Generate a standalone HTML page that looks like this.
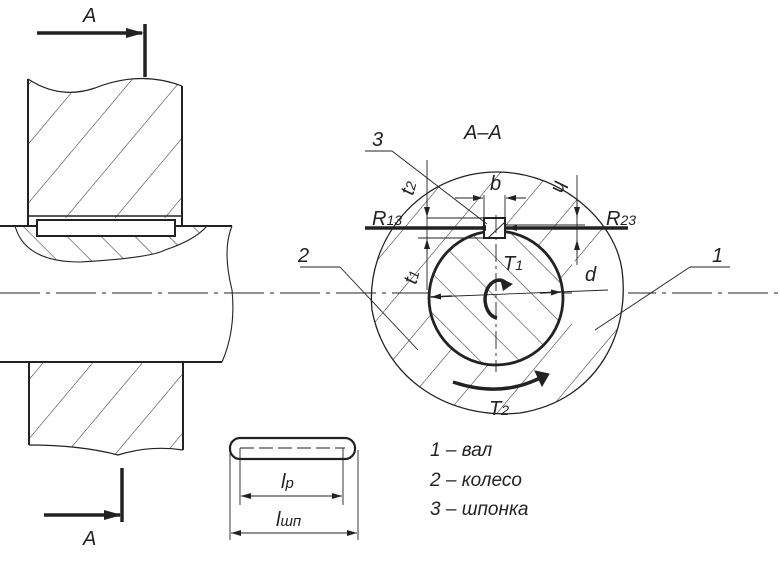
<!DOCTYPE html>
<html><head><meta charset="utf-8"><style>
html,body{margin:0;padding:0;background:#fff;}
svg{display:block;}
text{font-family:"Liberation Sans",sans-serif;font-style:italic;fill:#222;}
</style></head><body>
<svg width="780" height="583" viewBox="0 0 780 583" xmlns="http://www.w3.org/2000/svg">
<defs>
<pattern id="h1" patternUnits="userSpaceOnUse" width="38" height="38" patternTransform="rotate(40)">
<line x1="0" y1="0" x2="0" y2="38" stroke="#333" stroke-width="1.1"/></pattern>
<pattern id="hs" patternUnits="userSpaceOnUse" width="28" height="28" patternTransform="rotate(-45)">
<line x1="0" y1="0" x2="0" y2="28" stroke="#333" stroke-width="1.1"/></pattern>
<pattern id="hb" patternUnits="userSpaceOnUse" width="24" height="24" patternTransform="rotate(-45)">
<line x1="0" y1="0" x2="0" y2="24" stroke="#333" stroke-width="1.1"/></pattern>
<marker id="ar" markerWidth="10" markerHeight="6" refX="10" refY="3" orient="auto" markerUnits="userSpaceOnUse">
<path d="M0,0 L10,3 L0,6z" fill="#222"/></marker>
<marker id="arb" markerWidth="18" markerHeight="10" refX="16" refY="5" orient="auto" markerUnits="userSpaceOnUse">
<path d="M0,0 L18,5 L0,10z" fill="#222"/></marker>
</defs>
<g stroke="#222" fill="none">
<!-- left view -->
<path d="M28,79 Q60,100 95,88 Q140,70 182,86 L182,218 L28,218Z" fill="url(#h1)" stroke="none"/>
<path d="M28,79 Q60,100 95,88 Q140,70 182,86" stroke-width="1.2"/>
<line x1="28" y1="79" x2="28" y2="226" stroke-width="2"/>
<line x1="182" y1="86" x2="182" y2="226" stroke-width="2"/>
<line x1="28" y1="216" x2="182" y2="216" stroke-width="1.5"/>
<path d="M15,226 Q25,262 80,262 Q150,258 165,250 Q195,240 207,226Z" fill="url(#hb)" stroke="none"/>
<path d="M15,226 Q25,262 80,262 Q150,258 165,250 Q195,240 207,226" stroke-width="1.1"/>
<rect x="37" y="220" width="138" height="16" fill="#fff" stroke-width="2"/>
<line x1="0" y1="226" x2="37" y2="226" stroke-width="2"/>
<line x1="175" y1="226" x2="232" y2="226" stroke-width="2"/>
<path d="M232,226 Q222,250 232,290 Q236,330 222,362" stroke-width="1.1"/>
<line x1="0" y1="362" x2="222" y2="362" stroke-width="2"/>
<path d="M29,362 L183,362 L183,450 Q150,445 118,455 Q80,445 29,445Z" fill="url(#h1)" stroke="none"/>
<path d="M29,445 Q80,445 118,455 Q150,445 183,450" stroke-width="1.2"/>
<line x1="29" y1="362" x2="29" y2="445" stroke-width="2"/>
<line x1="183" y1="362" x2="183" y2="450" stroke-width="2"/>
<line x1="0" y1="293" x2="780" y2="293" stroke-width="1" stroke-dasharray="40,6,4,6"/>
<!-- A arrows -->
<line x1="37" y1="33" x2="142" y2="33" stroke-width="3.5" marker-end="url(#arb)"/>
<line x1="145" y1="24" x2="145" y2="77" stroke-width="3.5"/>
<line x1="44" y1="515" x2="120" y2="515" stroke-width="3.5" marker-end="url(#arb)"/>
<line x1="122" y1="468" x2="122" y2="522" stroke-width="3.5"/>
<!-- section A-A -->
<path d="M497,172 C560,172 615,220 622,270 C630,330 600,400 520,413 C450,420 385,380 372,310 C365,240 420,172 497,172Z" fill="url(#h1)" stroke="none"/>
<path d="M572,262 L628,250 L628,300 L572,330Z" fill="#fff" stroke="none"/>
<path d="M497,172 C560,172 615,220 622,270 C630,330 600,400 520,413 C450,420 385,380 372,310 C365,240 420,172 497,172Z" stroke-width="1.3"/>
<circle cx="496" cy="298" r="67" fill="#fff" stroke="none"/>
<circle cx="496" cy="298" r="67" fill="url(#hs)" stroke-width="2.8"/>
<rect x="484" y="218" width="21" height="20" fill="#fff" stroke-width="2"/>
<line x1="488" y1="238" x2="505" y2="222" stroke-width="1"/>
<line x1="365" y1="228" x2="484" y2="228" stroke-width="3.5"/>
<line x1="505" y1="228" x2="628" y2="228" stroke-width="3.5"/>
<line x1="484" y1="228" x2="476" y2="228" stroke-width="3" marker-end="url(#ar)"/>
<line x1="520" y1="228" x2="507" y2="228" stroke-width="3" marker-end="url(#ar)"/>
<line x1="496" y1="215" x2="496" y2="372" stroke-width="0.9" stroke-dasharray="18,4,3,4"/>
<!-- dims -->
<line x1="427" y1="160" x2="427" y2="290" stroke-width="0.9"/>
<line x1="427" y1="218" x2="500" y2="218" stroke-width="0.9"/>
<line x1="418" y1="238" x2="505" y2="238" stroke-width="0.9"/>
<line x1="427" y1="200" x2="427" y2="217" stroke-width="1" marker-end="url(#ar)"/>
<line x1="427" y1="255" x2="427" y2="239" stroke-width="1" marker-end="url(#ar)"/>
<line x1="455" y1="198" x2="483" y2="198" stroke-width="1" marker-end="url(#ar)"/>
<line x1="526" y1="198" x2="506" y2="198" stroke-width="1" marker-end="url(#ar)"/>
<line x1="484" y1="195" x2="484" y2="218" stroke-width="0.9"/>
<line x1="505" y1="195" x2="505" y2="218" stroke-width="0.9"/>
<line x1="577" y1="175" x2="577" y2="265" stroke-width="0.9"/>
<line x1="506" y1="225" x2="585" y2="225" stroke-width="0.9"/>
<line x1="577" y1="200" x2="577" y2="217" stroke-width="1" marker-end="url(#ar)"/>
<line x1="577" y1="255" x2="577" y2="240" stroke-width="1" marker-end="url(#ar)"/>
<line x1="430" y1="297" x2="608" y2="290" stroke-width="0.9"/>
<line x1="452" y1="296" x2="431" y2="297" stroke-width="1.5" marker-end="url(#ar)"/>
<line x1="540" y1="293" x2="561" y2="292" stroke-width="1.5" marker-end="url(#ar)"/>
<!-- leaders -->
<line x1="365" y1="151" x2="392" y2="151" stroke-width="0.9"/>
<line x1="392" y1="151" x2="487" y2="224" stroke-width="0.9"/>
<line x1="300" y1="267" x2="340" y2="267" stroke-width="0.9"/>
<line x1="340" y1="267" x2="418" y2="350" stroke-width="0.9"/>
<line x1="690" y1="267" x2="730" y2="267" stroke-width="0.9"/>
<line x1="690" y1="267" x2="595" y2="330" stroke-width="0.9"/>
<!-- torques -->
<path d="M505,282 A14,19 0 1 0 497,318" stroke-width="3.5"/>
<path d="M500,278 L513,284 L503,291Z" fill="#222" stroke="none"/>
<path d="M453,382 Q500,398 540,378" stroke-width="3.5"/>
<path d="M535,371 L549,374 L542,386Z" fill="#222"/>
<!-- key top view -->
<rect x="230" y="438" width="125" height="21" rx="10" stroke-width="2.2" fill="#fff"/>
<line x1="240" y1="448" x2="345" y2="448" stroke-width="0.9" stroke-dasharray="14,5"/>
<line x1="240" y1="448" x2="240" y2="505" stroke-width="0.9"/>
<line x1="343" y1="448" x2="343" y2="505" stroke-width="0.9"/>
<line x1="230" y1="450" x2="230" y2="540" stroke-width="0.9"/>
<line x1="358" y1="450" x2="358" y2="540" stroke-width="0.9"/>
<line x1="290" y1="496" x2="241" y2="496" stroke-width="1" marker-end="url(#ar)"/>
<line x1="290" y1="496" x2="342" y2="496" stroke-width="1" marker-end="url(#ar)"/>
<line x1="290" y1="533" x2="231" y2="533" stroke-width="1" marker-end="url(#ar)"/>
<line x1="290" y1="533" x2="357" y2="533" stroke-width="1" marker-end="url(#ar)"/>
</g>
<g font-size="20">
<text x="83" y="22">A</text>
<text x="83" y="545">A</text>
<text x="464" y="139">A–A</text>
<text x="372" y="146">3</text>
<text x="490" y="190">b</text>
<text x="372" y="225">R<tspan font-size="14">13</tspan></text>
<text x="606" y="225">R<tspan font-size="14">23</tspan></text>
<text x="503" y="270">T<tspan font-size="14">1</tspan></text>
<text x="585" y="281">d</text>
<text x="298" y="262">2</text>
<text x="712" y="262">1</text>
<text x="489" y="415">T<tspan font-size="14">2</tspan></text>
<text transform="translate(413,196) rotate(-75)">t<tspan font-size="14">2</tspan></text>
<text transform="translate(416,285) rotate(-75)">t<tspan font-size="14">1</tspan></text>
<text transform="translate(555,180) rotate(105)">h</text>
<text x="281" y="488">l<tspan font-size="15">p</tspan></text>
<text x="276" y="526">l<tspan font-size="15">шп</tspan></text>
<text x="430" y="456" font-size="19">1 – вал</text>
<text x="430" y="486" font-size="19">2 – колесо</text>
<text x="430" y="515" font-size="19">3 – шпонка</text>
</g>
</svg>
</body></html>
